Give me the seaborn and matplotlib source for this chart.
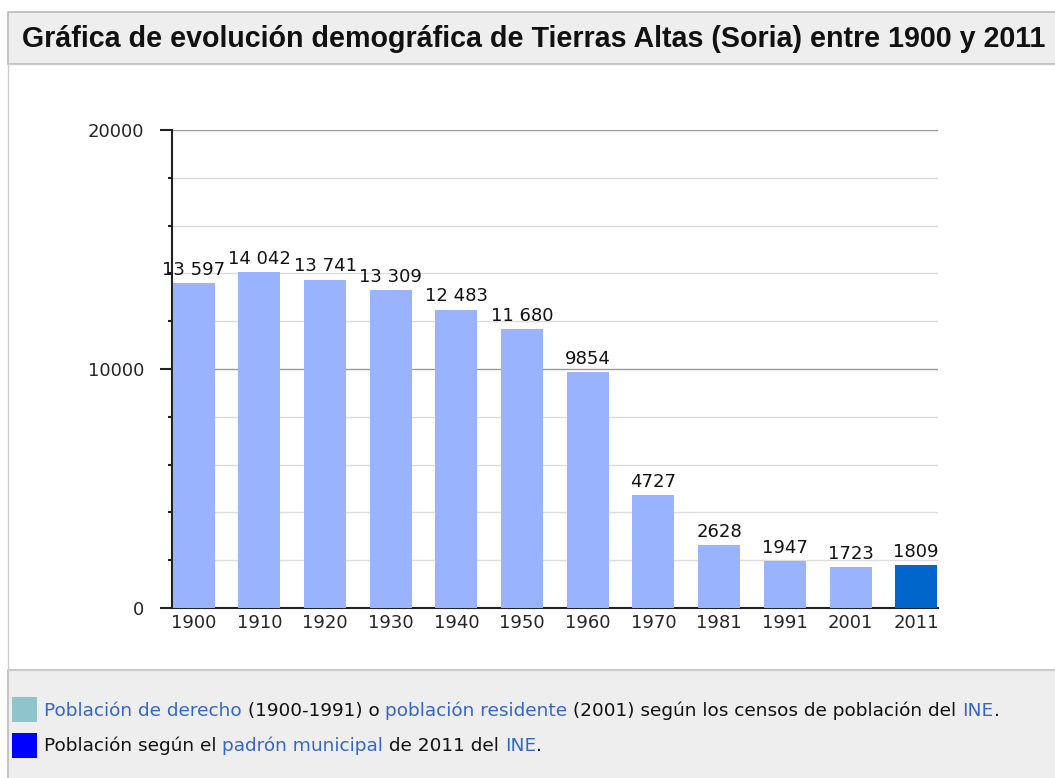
import pandas as pd
import matplotlib.pyplot as plt
import seaborn as sns
from matplotlib.patches import Rectangle
from matplotlib.text import Annotation
from matplotlib.ticker import MultipleLocator

# Data
years = ["1900", "1910", "1920", "1930", "1940", "1950",
         "1960", "1970", "1981", "1991", "2001", "2011"]
population = [13597, 14042, 13741, 13309, 12483, 11680,
              9854, 4727, 2628, 1947, 1723, 1809]
source = ["censo"] * 11 + ["padron"]

df = pd.DataFrame({"year": years, "population": population, "source": source})

sns.set_style("white")
plt.rcParams['font.family'] = ['DejaVu Sans']

fig = plt.figure(figsize=(10.55, 7.78), dpi=100)

# panel backgrounds: title bar and legend area
fig.patches.append(Rectangle((0.0076, 0.918), 1.0, 0.066, transform=fig.transFigure,
                             facecolor="#eeeeee", edgecolor="#bbbbbb", lw=1.2, zorder=0))
fig.patches.append(Rectangle((0.0076, -0.01), 1.0, 0.149, transform=fig.transFigure,
                             facecolor="#eeeeee", edgecolor="#bbbbbb", lw=1.2, zorder=0))
fig.patches.append(Rectangle((0.0076, 0.139), 1.0, 0.779, transform=fig.transFigure,
                             facecolor="none", edgecolor="#cccccc", lw=1.0, zorder=0))

fig.text(0.021, 0.950, "Gráfica de evolución demográfica de Tierras Altas (Soria) entre 1900 y 2011",
         fontsize=20.6, fontweight="bold", va="center", ha="left", color="#111111",
         family="Liberation Sans")

ax = fig.add_axes([0.163, 0.2185, 0.726, 0.6145])
sns.barplot(data=df, x="year", y="population", hue="source",
            palette={"censo": "#99b3ff", "padron": "#0066cc"}, saturation=1,
            width=0.64, dodge=False, legend=False, ax=ax, zorder=3,
            linewidth=0, edgecolor="none")

for cont in ax.containers:
    labels = [f"{int(v):,}".replace(",", " ") if v >= 10000 else f"{int(v)}"
              for v in cont.datavalues]
    ax.bar_label(cont, labels=labels, padding=3, fontsize=13, color="#111111")

ax.set_ylim(0, 20000)
ax.set_xlim(-0.33, 11.33)
ax.yaxis.set_major_locator(MultipleLocator(10000))
ax.yaxis.set_minor_locator(MultipleLocator(2000))
ax.grid(axis="y", which="minor", color="#dddddd", lw=1.0, zorder=0)
ax.grid(axis="y", which="major", color="#999999", lw=1.0, zorder=0)
ax.tick_params(axis="y", which="major", length=9, width=1.5, color="#222222",
               labelsize=13, pad=11, left=True)
ax.tick_params(axis="y", which="minor", length=3, width=1.5, color="#222222", left=True)
ax.tick_params(axis="x", length=0, labelsize=13, pad=4)
ax.set_xlabel("")
ax.set_ylabel("")
for s in ["top", "right"]:
    ax.spines[s].set_visible(False)
ax.spines["left"].set_color("#222222")
ax.spines["left"].set_linewidth(1.5)
ax.spines["bottom"].set_color("#222222")
ax.spines["bottom"].set_linewidth(1.5)
ax.set_facecolor("none")

# legend with colored swatches and link-colored text
link = "#3366cc"
fig.patches.append(Rectangle((12 / 1055, 1 - 722 / 778), 25 / 1055, 25 / 778,
                             transform=fig.transFigure, facecolor="#8ec5cc", edgecolor="none"))
fig.patches.append(Rectangle((12 / 1055, 1 - 758 / 778), 25 / 1055, 25 / 778,
                             transform=fig.transFigure, facecolor="#0000ff", edgecolor="none"))


def write_line(parts, x, y, size=13.3):
    t = fig.text(x, y, parts[0][0], color=parts[0][1], fontsize=size, va="baseline")
    for txt, col in parts[1:]:
        t = fig.add_artist(Annotation(txt, xy=(1, 0), xycoords=t, va="bottom",
                                      color=col, fontsize=size))
    return t


write_line([("Población de derecho", link), (" (1900-1991) o ", "#111111"),
            ("población residente", link),
            (" (2001) según los censos de población del ", "#111111"),
            ("INE", link), (".", "#111111")], 44 / 1055, 1 - 716 / 778)
write_line([("Población según el ", "#111111"), ("padrón municipal", link),
            (" de 2011 del ", "#111111"), ("INE", link), (".", "#111111")],
           44 / 1055, 1 - 751 / 778)

fig.savefig("out.png", dpi=100)
